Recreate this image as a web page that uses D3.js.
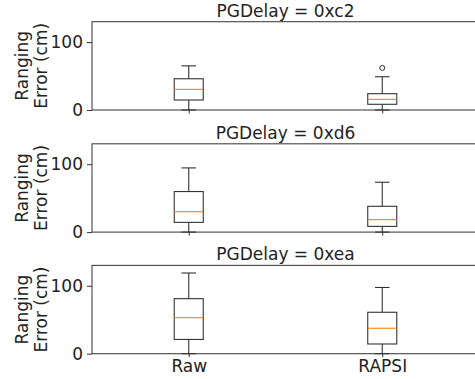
<!DOCTYPE html>
<html>
<head>
<meta charset="utf-8">
<script src="https://cdn.jsdelivr.net/npm/d3@7"></script>
<style>
  body { margin: 0; background: #fff; }
  svg { display: block; font-family: "DejaVu Sans", sans-serif; }
</style>
</head>
<body>
<div id="chart"></div>
<script>
// categories on the x axis
const categories = ['Raw', 'RAPSI'];

// one panel per PGDelay setting
const panelTitles = ['PGDelay = 0xc2', 'PGDelay = 0xd6', 'PGDelay = 0xea'];

// box stats per panel: [whiskerLow, q1, median, q3, whiskerHigh]
const rawStats = [
    [0, 14.7, 30.4, 46, 65],
    [0, 14.3, 30, 59.7, 94.5],
    [0, 21, 53, 81, 118.8]
];
const rapsiStats = [
    [0, 8.4, 15.7, 24, 49],
    [0, 8.4, 18.3, 38, 73.4],
    [0, 14.3, 37.5, 61, 97.5]
];

// outliers per panel (RAPSI only has one, in the first panel)
const rawOutliers = [[], [], []];
const rapsiOutliers = [[62], [], []];

const yTicks = [0, 100];
const yLabelLines = ['Ranging', 'Error (cm)'];

const width = 475, height = 379;
const panelTops = [21.7, 143.8, 265.4];
const panelHeight = 88.3;
const left = 92, right = 479;

const svg = d3.select('#chart')
    .append('svg')
    .attr('width', width)
    .attr('height', height);

const x = d3.scaleLinear()
    .domain([0.5, 2.5])
    .range([left, right]);

const boxWidth = x(1.15) - x(1);
const capWidth = boxWidth / 2;
const lineColor = '#333';

panelTitles.forEach((title, p) => {
    const top = panelTops[p];
    const y = d3.scaleLinear()
        .domain([0, 130])
        .range([top + panelHeight, top]);

    const g = svg.append('g');

    // spines
    g.append('rect')
        .attr('x', left)
        .attr('y', top)
        .attr('width', right - left)
        .attr('height', panelHeight)
        .attr('fill', 'none')
        .attr('stroke', '#444')
        .attr('stroke-width', 1.1);

    // y axis
    const yAxis = g.append('g')
        .attr('transform', `translate(${left},0)`)
        .call(d3.axisLeft(y).tickValues(yTicks).tickSize(5).tickPadding(4));
    yAxis.select('.domain').remove();
    yAxis.selectAll('line').attr('stroke', '#333');
    yAxis.selectAll('text')
        .attr('font-size', 17)
        .attr('fill', '#222')
        .attr('font-family', '"DejaVu Sans", sans-serif');

    // x axis: tick marks on every panel, labels on the bottom one
    const xAxis = g.append('g')
        .attr('transform', `translate(0,${top + panelHeight})`)
        .call(d3.axisBottom(x).tickValues([1, 2]).tickSize(3.5).tickPadding(3)
            .tickFormat(p === panelTitles.length - 1 ? (d => categories[d - 1]) : () => ''));
    xAxis.select('.domain').remove();
    xAxis.selectAll('line').attr('stroke', '#333');
    xAxis.selectAll('text')
        .attr('font-size', 17)
        .attr('fill', '#222')
        .attr('font-family', '"DejaVu Sans", sans-serif');

    // title
    g.append('text')
        .attr('x', (left + right) / 2)
        .attr('y', top - 5)
        .attr('text-anchor', 'middle')
        .attr('font-size', 17)
        .attr('fill', '#222')
        .text(title);

    // y label (two lines, rotated)
    const cy = top + panelHeight / 2;
    const yl = g.append('text')
        .attr('transform', `translate(0,${cy}) rotate(-90)`)
        .attr('text-anchor', 'middle')
        .attr('font-size', 17)
        .attr('fill', '#222');
    yLabelLines.forEach((line, i) => {
        yl.append('tspan')
            .attr('x', 0)
            .attr('y', 27.5 + i * 19)
            .text(line);
    });

    // boxes
    const boxes = [
        { pos: 1, s: rawStats[p], out: rawOutliers[p] },
        { pos: 2, s: rapsiStats[p], out: rapsiOutliers[p] }
    ];
    boxes.forEach(b => {
        const cx = x(b.pos);
        const [lo, q1, med, q3, hi] = b.s;
        // whiskers
        g.append('line')
            .attr('x1', cx).attr('x2', cx)
            .attr('y1', y(q3)).attr('y2', y(hi))
            .attr('stroke', lineColor).attr('stroke-width', 1.1);
        g.append('line')
            .attr('x1', cx).attr('x2', cx)
            .attr('y1', y(q1)).attr('y2', y(lo))
            .attr('stroke', lineColor).attr('stroke-width', 1.1);
        // caps
        [lo, hi].forEach(v => {
            g.append('line')
                .attr('x1', cx - capWidth / 2).attr('x2', cx + capWidth / 2)
                .attr('y1', y(v)).attr('y2', y(v))
                .attr('stroke', lineColor).attr('stroke-width', 1.1);
        });
        // box
        g.append('rect')
            .attr('x', cx - boxWidth / 2)
            .attr('y', y(q3))
            .attr('width', boxWidth)
            .attr('height', y(q1) - y(q3))
            .attr('fill', 'none')
            .attr('stroke', lineColor)
            .attr('stroke-width', 1.1);
        // median
        g.append('line')
            .attr('x1', cx - boxWidth / 2).attr('x2', cx + boxWidth / 2)
            .attr('y1', y(med)).attr('y2', y(med))
            .attr('stroke', '#ff7f0e').attr('stroke-width', 1.1);
        // outliers
        b.out.forEach(v => {
            g.append('circle')
                .attr('cx', cx).attr('cy', y(v))
                .attr('r', 2.5)
                .attr('fill', 'none')
                .attr('stroke', lineColor)
                .attr('stroke-width', 1);
        });
    });
});
</script>
</body>
</html>
